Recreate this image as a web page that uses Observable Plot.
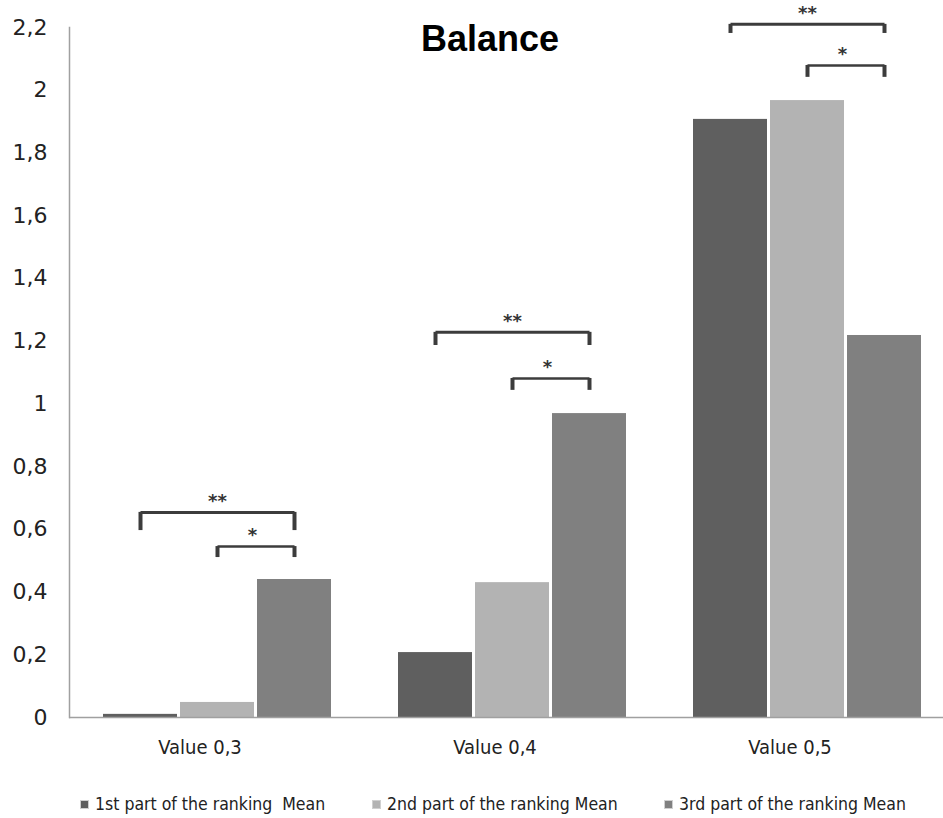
<!DOCTYPE html>
<html><head><meta charset="utf-8">
<script src="https://cdn.jsdelivr.net/npm/d3@7"></script>
<script src="https://cdn.jsdelivr.net/npm/@observablehq/plot@0.6"></script>
<style>
body{margin:0;background:#fff;}
#wrap{position:relative;width:943px;height:818px;overflow:hidden;}
#title{position:absolute;left:0;width:980px;top:21px;text-align:center;font:bold 36px "Liberation Sans",Arial,sans-serif;line-height:36px;color:#000;}
#legend{position:absolute;top:793px;left:80px;display:flex;font:17.5px "Liberation Sans Narrow","DejaVu Sans Condensed","DejaVu Sans",sans-serif;color:#222;line-height:22px;}
.item{width:292px;display:flex;align-items:center;white-space:pre;}
.sw{width:7px;height:7px;margin-right:6px;border:1px solid #d0d0d0;}
</style></head>
<body><div id="wrap"><div id="chart"></div><div id="title">Balance</div><div id="legend"></div></div>
<script>
const categories = ["Value 0,3", "Value 0,4", "Value 0,5"];
const series = ["1st part of the ranking  Mean", "2nd part of the ranking Mean", "3rd part of the ranking Mean"];
const mean1 = [0.01, 0.207, 1.907];
const mean2 = [0.048, 0.43, 1.967];
const mean3 = [0.44, 0.969, 1.218];
const colors = ["#5f5f5f", "#b3b3b3", "#808080"];
const yTicks = [0, 0.2, 0.4, 0.6, 0.8, 1, 1.2, 1.4, 1.6, 1.8, 2, 2.2];
// significance brackets (y in data units)
const bigTop = [0.654, 1.228, 2.21];
const bigLeg = [0.596, 1.186, 2.181];
const smallTop = [0.545, 1.081, 2.079];
const smallLeg = [0.51, 1.043, 2.041];
const bigStars = ["**", "**", "**"];
const smallStars = ["*", "*", "*"];

const means = [mean1, mean2, mean3];
const rows = [];
categories.forEach((c, i) => series.forEach((s, j) => rows.push({category: c, series: s, value: means[j][i]})));
const brackets = categories.map((c, i) => ({category: c, bigTop: bigTop[i], bigLeg: bigLeg[i], smallTop: smallTop[i], smallLeg: smallLeg[i], bigStar: bigStars[i], smallStar: smallStars[i]}));
const legs = [];
brackets.forEach(b => {
  legs.push({category: b.category, series: series[0], top: b.bigTop, leg: b.bigLeg});
  legs.push({category: b.category, series: series[2], top: b.bigTop, leg: b.bigLeg});
  legs.push({category: b.category, series: series[1], top: b.smallTop, leg: b.smallLeg});
  legs.push({category: b.category, series: series[2], top: b.smallTop, leg: b.smallLeg});
});
const fmt = d => String(d).replace(".", ",");
const brCol = "#3c3c3c";

const plot = Plot.plot({
  width: 943, height: 770,
  marginLeft: 69, marginRight: 0, marginTop: 27, marginBottom: 53,
  style: {fontFamily: "'DejaVu Sans', sans-serif", fontSize: "22px", color: "#222", background: "transparent"},
  fx: {domain: categories, range: [69, 954], padding: 0, label: null, axis: null},
  x: {domain: series, paddingInner: 0.045, paddingOuter: 0.42, axis: null},
  y: {domain: [0, 2.2], label: null, axis: null},
  color: {domain: series, range: colors},
  marks: [
    Plot.barY(rows, {fx: "category", x: "series", y: "value", fill: "series"}),
    Plot.ruleY([0], {stroke: "#a0a0a0", strokeWidth: 1.5}),
    Plot.frame({anchor: "left", stroke: "#a0a0a0", strokeWidth: 1.5, facetAnchor: "left"}),
    Plot.axisY({ticks: yTicks, tickFormat: fmt, tickSize: 0, tickPadding: 22, fontSize: 22, label: null, fill: "#222"}),
    Plot.axisFx({anchor: "bottom", tickSize: 0, tickPadding: 22, dx: -17, fontSize: 20, label: null, fill: "#222", fontFamily: "'Liberation Sans Narrow','DejaVu Sans Condensed','DejaVu Sans',sans-serif"}),
    Plot.link(brackets, {fx: "category", x1: () => series[0], x2: () => series[2], y1: "bigTop", y2: "bigTop", stroke: brCol, strokeWidth: 3}),
    Plot.link(brackets, {fx: "category", x1: () => series[1], x2: () => series[2], y1: "smallTop", y2: "smallTop", stroke: brCol, strokeWidth: 2.5}),
    Plot.ruleX(legs, {fx: "category", x: "series", y1: "leg", y2: "top", stroke: brCol, strokeWidth: 4}),
    Plot.text(brackets, {fx: "category", x: () => series[1], y: "bigTop", text: "bigStar", dy: -11, fontSize: 18, fontWeight: "bold", fill: "#333"}),
    Plot.text(brackets, {fx: "category", x: () => series[1], y: "smallTop", text: "smallStar", dx: 35, dy: -11, fontSize: 18, fontWeight: "bold", fill: "#333"})
  ]
});
document.getElementById("chart").appendChild(plot);

const legend = document.getElementById("legend");
series.forEach((s, i) => {
  const it = document.createElement("div"); it.className = "item";
  const sw = document.createElement("span"); sw.className = "sw"; sw.style.background = colors[i];
  const t = document.createElement("span"); t.textContent = s;
  it.appendChild(sw); it.appendChild(t); legend.appendChild(it);
});
</script>
</body></html>
